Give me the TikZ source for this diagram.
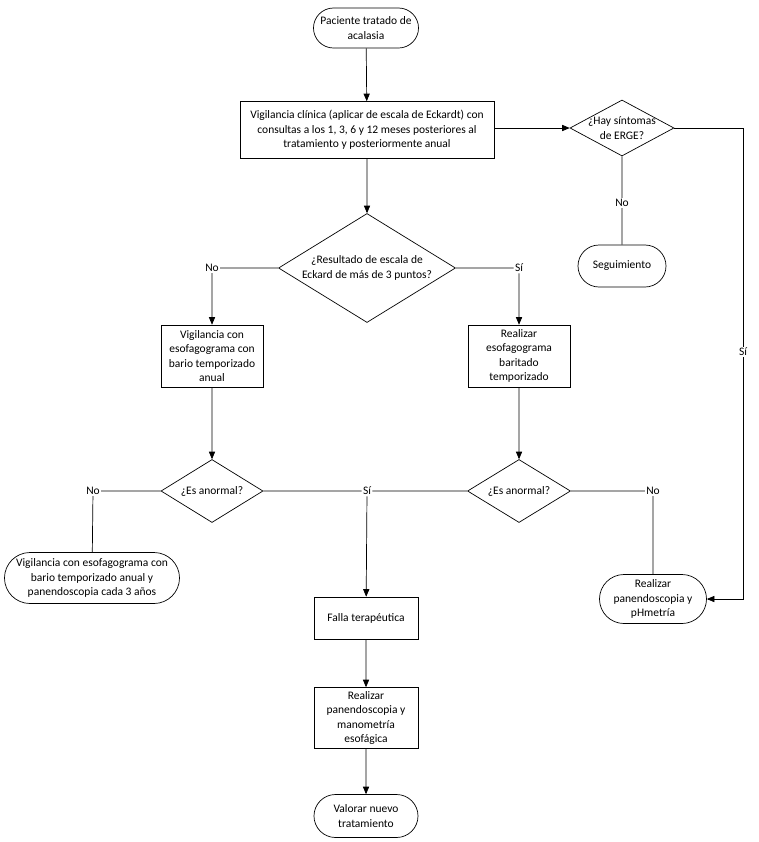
\documentclass[tikz,border=0pt]{standalone}
\usepackage{fontspec}
\setmainfont{Carlito}
\usepackage{tikz}
\usetikzlibrary{positioning,shapes,arrows}

\begin{document}
\begin{tikzpicture}[scale=0.3514, line width=0.7pt, >=triangle 45]
\tikzstyle{every node}+=[inner sep=0pt, font=\fontsize{11.5}{14.5}\selectfont, align=center]
\tikzstyle{term}=[draw, rounded rectangle, minimum width=105pt, minimum height=42pt]
\tikzstyle{box}=[draw, rectangle, minimum width=104pt, minimum height=42pt]
\tikzstyle{decision}=[draw, diamond, aspect=1.62, minimum width=102pt, minimum height=63pt]
\tikzstyle{lbl}=[inner sep=1pt]
\useasboundingbox (0,0) rectangle (75.9,-84.2);
% top part
\node [term, minimum height=40pt] (start) at (36.6,-2.8) {Paciente tratado de\\acalasia};
\node [box, minimum width=254pt, minimum height=57pt] (vigil) at (36.7,-13.0) {Vigilancia clínica (aplicar de escala de Eckardt) con\\consultas a los 1, 3, 6 y 12 meses posteriores al\\tratamiento y posteriormente anual};
\node [decision, aspect=1.86, inner sep=-8pt, minimum width=104pt, minimum height=56pt] (erge) at (62.2,-12.8) {¿Hay síntomas\\de ERGE?};
\node [term, minimum width=88pt] (segui) at (62.2,-26.6) {Seguimiento};
\node [lbl] (noerge) at (62.2,-20.3) {No};
\node [lbl] (sierge) at (74.3,-35.2) {Sí};
% escala de Eckard
\node [decision, minimum width=177pt, minimum height=109pt] (eckard) at (36.7,-26.8) {¿Resultado de escala de\\Eckard de más de 3 puntos?};
\node [lbl] (noeck) at (21.2,-26.8) {No};
\node [lbl] (sieck) at (51.9,-26.8) {Sí};
\node [box, minimum width=102pt, minimum height=62pt] (anual) at (21.2,-35.6) {Vigilancia con\\esofagograma con\\bario temporizado\\anual};
\node [box, minimum width=102pt, minimum height=62pt] (barit) at (51.9,-35.6) {Realizar\\esofagograma\\baritado\\temporizado};
% es anormal
\node [decision] (anorm1) at (21.2,-49.1) {¿Es anormal?};
\node [decision, minimum width=103pt] (anorm2) at (51.9,-49.1) {¿Es anormal?};
\node [lbl] (noan1) at (9.3,-49.1) {No};
\node [lbl] (sian) at (36.7,-49.1) {Sí};
\node [lbl] (noan2) at (65.3,-49.1) {No};
\node [term, minimum width=175pt, minimum height=51pt] (vigpan) at (9.2,-57.8) {Vigilancia con esofagograma con\\bario temporizado anual y\\panendoscopia cada 3 años};
\node [term, minimum width=107pt, minimum height=49pt] (phmet) at (65.3,-59.9) {Realizar\\panendoscopia y\\pHmetría};
% fallo
\node [box] (falla) at (36.6,-61.8) {Falla terapéutica};
\node [box, minimum height=61pt] (mano) at (36.6,-71.8) {Realizar\\panendoscopia y\\manometría\\esofágica};
\node [term, minimum width=104pt, minimum height=43pt] (valor) at (36.6,-81.6) {Valorar nuevo\\tratamiento};
% connectors
\draw [->] (start) -- (vigil);
\draw [->] (vigil.east |- erge.west) -- (erge.west);
\draw (erge.south) -- (noerge);
\draw (noerge) -- (segui);
\draw (erge.east) -| (sierge);
\draw [->] (sierge) |- (phmet.east);
\draw [->] (vigil) -- (eckard);
\draw (eckard.west) -- (noeck);
\draw [->] (noeck) -- (anual);
\draw (eckard.east) -- (sieck);
\draw [->] (sieck) -- (barit);
\draw [->] (anual) -- (anorm1);
\draw [->] (barit) -- (anorm2);
\draw (anorm1.west) -- (noan1);
\draw (noan1) -- (vigpan);
\draw (anorm1.east) -- (sian);
\draw (sian) -- (anorm2.west);
\draw [->] (sian) -- (falla);
\draw (anorm2.east) -- (noan2);
\draw (noan2) -- (phmet);
\draw [->] (falla) -- (mano);
\draw [->] (mano) -- (valor);
\end{tikzpicture}
\end{document}
